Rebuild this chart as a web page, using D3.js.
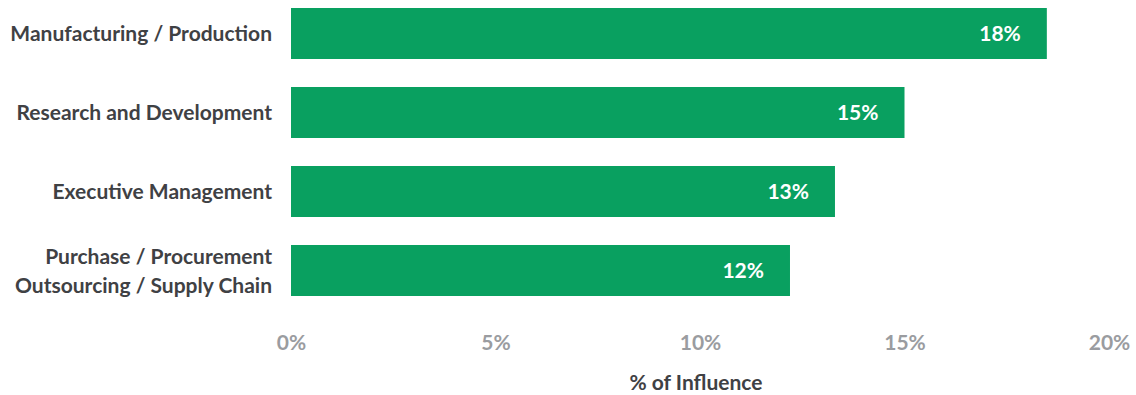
<!DOCTYPE html>
<html>
<head>
<meta charset="utf-8">
<script src="https://cdn.jsdelivr.net/npm/d3@7"></script>
<style>
  html, body { margin: 0; padding: 0; background: #ffffff; }
  svg { display: block; }
  text { font-family: Lato, "Open Sans", sans-serif; font-weight: 700; }
</style>
</head>
<body>
<svg id="chart" width="1136" height="395"></svg>
<script>
// Share of purchase-decision influence by department
const categories = [
  ["Manufacturing / Production"],
  ["Research and Development"],
  ["Executive Management"],
  ["Purchase / Procurement", "Outsourcing / Supply Chain"]
];
const values = [18.48, 15.0, 13.3, 12.2];
const tickValues = [0, 5, 10, 15, 20];
const axisTitle = "% of Influence";

const barColor = "#09a060";
const labelColor = "#3f4144";
const tickColor = "#9a9ca0";

const svg = d3.select("#chart");

const x = d3.scaleLinear().domain([0, 20]).range([291, 1109]);
const y = d3.scaleBand()
  .domain(d3.range(categories.length))
  .range([8, 296])
  .paddingInner(0.3544)
  .paddingOuter(0);

const pct = v => d3.format(".0f")(v) + "%";

// Bars
svg.append("g")
  .selectAll("rect")
  .data(values)
  .join("rect")
  .attr("x", x(0))
  .attr("y", (d, i) => y(i))
  .attr("width", d => x(d) - x(0))
  .attr("height", y.bandwidth())
  .attr("fill", barColor);

// Value labels inside the bar ends
svg.append("g")
  .selectAll("text")
  .data(values)
  .join("text")
  .attr("x", d => x(d) - 26)
  .attr("y", (d, i) => y(i) + y.bandwidth() / 2)
  .attr("dy", "0.36em")
  .attr("text-anchor", "end")
  .attr("fill", "#ffffff")
  .style("font-size", "21px")
  .text(d => pct(d));

// Category labels (multi-line where needed)
const catG = svg.append("g");
categories.forEach((lines, i) => {
  const cy = y(i) + y.bandwidth() / 2;
  const lh = 29;
  const t = catG.append("text")
    .attr("text-anchor", "end")
    .attr("fill", labelColor)
    .style("font-size", "21px");
  lines.forEach((ln, j) => {
    t.append("tspan")
      .attr("x", 272)
      .attr("y", cy + (j - (lines.length - 1) / 2) * lh)
      .attr("dy", "0.36em")
      .text(ln);
  });
});

// X axis tick labels (no line, no tick marks)
const xAxis = d3.axisBottom(x)
  .tickValues(tickValues)
  .tickSize(0)
  .tickPadding(0)
  .tickFormat(d => d + "%");

const axisG = svg.append("g")
  .attr("transform", "translate(0,335)")
  .call(xAxis);
axisG.select(".domain").remove();
axisG.selectAll("text")
  .attr("dy", "0.72em")
  .attr("fill", tickColor)
  .style("font-size", "21px")
  .style("font-family", "Lato, 'Open Sans', sans-serif")
  .style("font-weight", 700);

// Axis title
svg.append("text")
  .attr("x", x(10) - 4)
  .attr("y", 390)
  .attr("text-anchor", "middle")
  .attr("fill", labelColor)
  .style("font-size", "21px")
  .text(axisTitle);
</script>
</body>
</html>
